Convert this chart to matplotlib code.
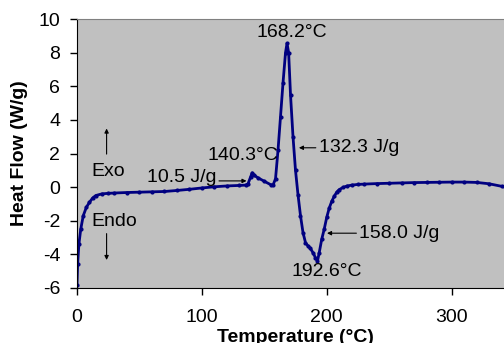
import matplotlib
matplotlib.use("Agg")
import matplotlib.pyplot as plt

plt.rcParams['font.family'] = ['Liberation Sans', 'DejaVu Sans']
plt.rcParams['axes.unicode_minus'] = False

# DSC trace: temperature (C) vs heat flow (W/g)
temp = [0, 0.5, 1.5, 3, 5, 7.5, 10, 12.5, 15, 20, 25, 30, 40, 50, 60, 70, 80, 90,
        100, 110, 120, 130, 135, 137, 139, 140.3, 142, 145, 150, 155, 157, 159,
        161, 163, 165, 167, 168.2, 169.5, 171, 173, 175, 177, 179, 181, 183, 185,
        187, 189, 191, 192.6, 194, 196, 198, 200, 202, 204, 206, 208, 210, 213,
        216, 220, 225, 230, 240, 250, 260, 270, 280, 290, 300, 310, 320, 330,
        340, 345]
heat_flow = [-5.8, -4.6, -3.4, -2.5, -1.7, -1.2, -0.9, -0.65, -0.5, -0.4, -0.37,
             -0.35, -0.32, -0.3, -0.28, -0.26, -0.2, -0.13, -0.05, 0.02, 0.07,
             0.1, 0.12, 0.2, 0.6, 0.85, 0.7, 0.55, 0.35, 0.15, 0.12, 0.5, 2.2,
             4.2, 6.2, 8.0, 8.55, 8.0, 5.5, 3.0, 1.0, -0.45, -1.7, -2.7, -3.3,
             -3.5, -3.65, -3.9, -4.2, -4.4, -3.9, -3.1, -2.5, -1.8, -1.25, -0.85,
             -0.55, -0.3, -0.15, -0.02, 0.06, 0.12, 0.16, 0.18, 0.21, 0.23, 0.25,
             0.27, 0.28, 0.29, 0.3, 0.3, 0.28, 0.2, 0.05, -0.05]

xticks = [0, 100, 200, 300]
yticks = [-6, -4, -2, 0, 2, 4, 6, 8, 10]

fig = plt.figure(figsize=(5.04, 3.43), dpi=100)
ax = fig.add_axes([77/504, 55/343, 437/504, 269/343])
ax.set_facecolor('#c0c0c0')

ax.plot(temp, heat_flow, color='#000080', lw=2, marker='o', ms=2)

ax.set_xlim(0, 350)
ax.set_ylim(-6, 10)
ax.set_xticks(xticks)
ax.set_yticks(yticks)
ax.tick_params(axis='both', labelsize=14, direction='out', length=5, width=1)
ax.tick_params(axis='x', pad=10)
ax.tick_params(axis='y', pad=7)
ax.spines['right'].set_visible(False)
ax.spines['top'].set_color('#808080')

ax.set_xlabel('Temperature (°C)', fontsize=14, fontweight='bold')
ax.set_ylabel('Heat Flow (W/g)', fontsize=14, fontweight='bold')
ax.xaxis.set_label_coords(0.5, -0.152)
ax.yaxis.set_label_coords(-0.113, 0.5)

fs = 14
arrow = dict(arrowstyle='-|>', color='black', lw=0.8, mutation_scale=6)

# peak labels
ax.text(172, 9.2, '168.2°C', fontsize=fs, ha='center', va='center')
ax.text(200, -5.0, '192.6°C', fontsize=fs, ha='center', va='center')
ax.text(132.7, 1.9, '140.3°C', fontsize=fs, ha='center', va='center')

# enthalpy labels with arrows
ax.annotate('', xy=(175.5, 2.34), xytext=(193.5, 2.34), arrowprops=arrow)
ax.text(193.5, 2.34, '132.3 J/g', fontsize=fs, ha='left', va='center')
ax.annotate('', xy=(198, -2.74), xytext=(226, -2.74), arrowprops=arrow)
ax.text(226, -2.74, '158.0 J/g', fontsize=fs, ha='left', va='center')
ax.annotate('', xy=(138, 0.37), xytext=(111.5, 0.37), arrowprops=arrow)
ax.text(111.5, 0.6, '10.5 J/g', fontsize=fs, ha='right', va='center')

# exo / endo direction
ax.annotate('', xy=(23.7, 3.65), xytext=(23.7, 1.8), arrowprops=arrow)
ax.text(11.7, 0.9, 'Exo', fontsize=fs, ha='left', va='center')
ax.annotate('', xy=(23.7, -4.5), xytext=(23.7, -2.6), arrowprops=arrow)
ax.text(11.7, -2.04, 'Endo', fontsize=fs, ha='left', va='center')

fig.savefig('out.png', dpi=100)
